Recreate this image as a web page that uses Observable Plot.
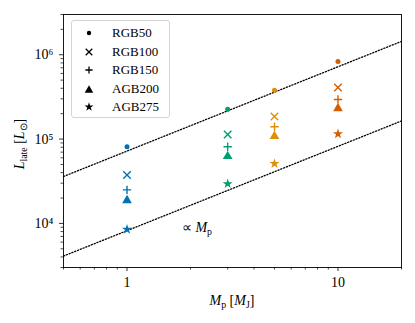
<!DOCTYPE html>
<html><head><meta charset="utf-8">
<script src="https://cdn.jsdelivr.net/npm/d3@7"></script>
<script src="https://cdn.jsdelivr.net/npm/@observablehq/plot@0.6"></script>
<style>
body{margin:0;background:#fff;}
#wrap{position:relative;width:415px;height:323px;font-family:"Liberation Serif",serif;color:#000;}
.lbl{position:absolute;white-space:nowrap;font-size:14px;line-height:1;}
.lbl sub{font-size:70%;vertical-align:baseline;position:relative;top:0.3em;font-style:normal;}
#legend{position:absolute;left:71px;top:20px;width:99px;height:98px;border:1px solid #d4d4d4;border-radius:3px;background:rgba(255,255,255,0.85);box-sizing:border-box;}
#legend .row{position:absolute;left:0;height:18px;width:97px;}
#legend svg{position:absolute;left:8px;top:0;}
#legend span{position:absolute;left:40px;top:2px;font-size:13px;line-height:14px;}
</style></head><body><div id="wrap"></div>
<script>
// ---- data ----
const masses = [1, 3, 5, 10];                       // planet mass [M_J]
const massColors = ["#0173B2", "#029E73", "#DE8F05", "#D55E00"];
const seriesNames = ["RGB50", "RGB100", "RGB150", "AGB200", "AGB275"];
const RGB50  = [8.1e4, 2.26e5, 3.8e5, 8.3e5];
const RGB100 = [3.75e4, 1.13e5, 1.85e5, 4.1e5];
const RGB150 = [2.5e4, 8.1e4, 1.4e5, 2.95e5];
const AGB200 = [1.95e4, 6.5e4, 1.12e5, 2.4e5];
const AGB275 = [8.5e3, 2.95e4, 5.1e4, 1.15e5];
const seriesValues = [RGB50, RGB100, RGB150, AGB200, AGB275];
const seriesSymbols = ["circle", "times", "plus", "triangle", "star"];
const xMajor = [1, 10];
const xTickLabels = ["1", "10"];
const xMinor = [0.5, 0.6, 0.7, 0.8, 0.9, 2, 3, 4, 5, 6, 7, 8, 9, 20];
const yMajor = [1e4, 1e5, 1e6];
const yTickLabels = ["10⁴", "10⁵", "10⁶"];
const yMinor = [3e3,4e3,5e3,6e3,7e3,8e3,9e3,2e4,3e4,4e4,5e4,6e4,7e4,8e4,9e4,2e5,3e5,4e5,5e5,6e5,7e5,8e5,9e5,2e6,3e6];
const scalingX = [0.5, 20];          // extent of the ∝ M_p guide lines
const guideNorms = [7.2e4, 8.2e3];   // L at M_p = 1 for the two guides

// ---- build ----
const rows = [];
seriesNames.forEach((s, i) => masses.forEach((m, j) => rows.push({series: s, mass: m, L: seriesValues[i][j]})));
const guides = [];
guideNorms.forEach((n, k) => scalingX.forEach(x => guides.push({k, x, L: n * x})));

const markStyle = {
  circle:   {r: 2.5, filled: true},
  times:    {r: 3.5, filled: false},
  plus:     {r: 2.8, filled: false},
  triangle: {r: 3.6, filled: true, dy: 1.4},
  star:     {r: 3.2, filled: true}
};

const dotMarks = seriesNames.map((s, i) => {
  const sym = seriesSymbols[i], st = markStyle[sym];
  const base = {x: "mass", y: "L", symbol: sym, r: st.r, dy: st.dy || 0};
  return Plot.dot(rows.filter(d => d.series === s),
    st.filled ? {...base, fill: "mass", stroke: "none"}
              : {...base, stroke: "mass", fill: "none", strokeWidth: 1.4});
});

const chart = Plot.plot({
  width: 415, height: 323,
  marginLeft: 63, marginRight: 14, marginTop: 14, marginBottom: 56,
  style: {fontFamily: "Liberation Serif, serif", fontSize: "14px", color: "#000", background: "#fff"},
  x: {type: "log", domain: [0.5, 20]},
  y: {type: "log", domain: [3e3, 3e6]},
  color: {type: "ordinal", domain: masses, range: massColors},
  marks: [
    Plot.line(guides, {x: "x", y: "L", z: "k", stroke: "#000", strokeWidth: 1.3, strokeDasharray: "1.2,1.8"}),
    ...dotMarks,
    Plot.axisX({ticks: xMajor, tickFormat: d => xTickLabels[xMajor.indexOf(d)], tickSize: 4, tickPadding: 6, label: null, strokeWidth: 0.8}),
    Plot.axisX({ticks: xMinor, tickFormat: () => "", tickSize: 2.5, label: null, strokeWidth: 0.7}),
    Plot.axisY({ticks: yMajor, tickFormat: d => yTickLabels[yMajor.indexOf(d)], tickSize: 4, tickPadding: 6, label: null, strokeWidth: 0.8}),
    Plot.axisY({ticks: yMinor, tickFormat: () => "", tickSize: 2.5, label: null, strokeWidth: 0.7}),
    Plot.frame({stroke: "#000", strokeWidth: 0.9})
  ]
});

const wrap = document.getElementById("wrap");
wrap.appendChild(chart);

const sx = chart.scale("x"), sy = chart.scale("y");
function addLabel(html, left, top, extra) {
  const el = document.createElement("div");
  el.className = "lbl";
  el.innerHTML = html;
  el.style.left = left + "px";
  el.style.top = top + "px";
  if (extra) Object.assign(el.style, extra);
  wrap.appendChild(el);
  return el;
}
// x label
const xl = addLabel("<i>M</i><sub>p</sub> [<i>M</i><sub>J</sub>]", 0, 0);
xl.style.left = ((sx.range[0] + sx.range[1]) / 2 - xl.offsetWidth / 2) + "px";
xl.style.top = (301 - xl.offsetHeight / 2) + "px";
// y label
const yl = addLabel("<i>L</i><sub>late</sub> [<i>L</i><sub>⊙</sub>]", 0, 0);
const ycx = 20, ycy = (sy.range[0] + sy.range[1]) / 2 + 3;
yl.style.left = (ycx - yl.offsetWidth / 2) + "px";
yl.style.top = (ycy - yl.offsetHeight / 2) + "px";
yl.style.transform = "rotate(-90deg)";
// annotation
const an = addLabel("∝ <i>M</i><sub>p</sub>", sx.apply(1.83), 0, {fontSize: "14px"});
an.style.top = (sy.apply(8.8e3) - an.offsetHeight / 2) + "px";

// legend
const legend = document.createElement("div");
legend.id = "legend";
seriesNames.forEach((s, i) => {
  const sym = seriesSymbols[i], st = markStyle[sym];
  const row = document.createElement("div");
  row.className = "row";
  row.style.top = (3 + i * 18.5) + "px";
  const dsym = {circle: d3.symbolCircle, times: d3.symbolTimes, plus: d3.symbolPlus, triangle: d3.symbolTriangle, star: d3.symbolStar}[sym];
  const r = st.r * 0.88;
  const path = d3.symbol(dsym, Math.PI * r * r)();
  const svg = `<svg width="18" height="18" viewBox="-9 -9 18 18"><path d="${path}" transform="translate(0,${(st.dy||0)*0.88})" ${st.filled ? 'fill="#000"' : 'fill="none" stroke="#000" stroke-width="1.3"'}/></svg>`;
  row.innerHTML = svg + `<span>${s}</span>`;
  legend.appendChild(row);
});
wrap.appendChild(legend);
</script>
</body></html>
